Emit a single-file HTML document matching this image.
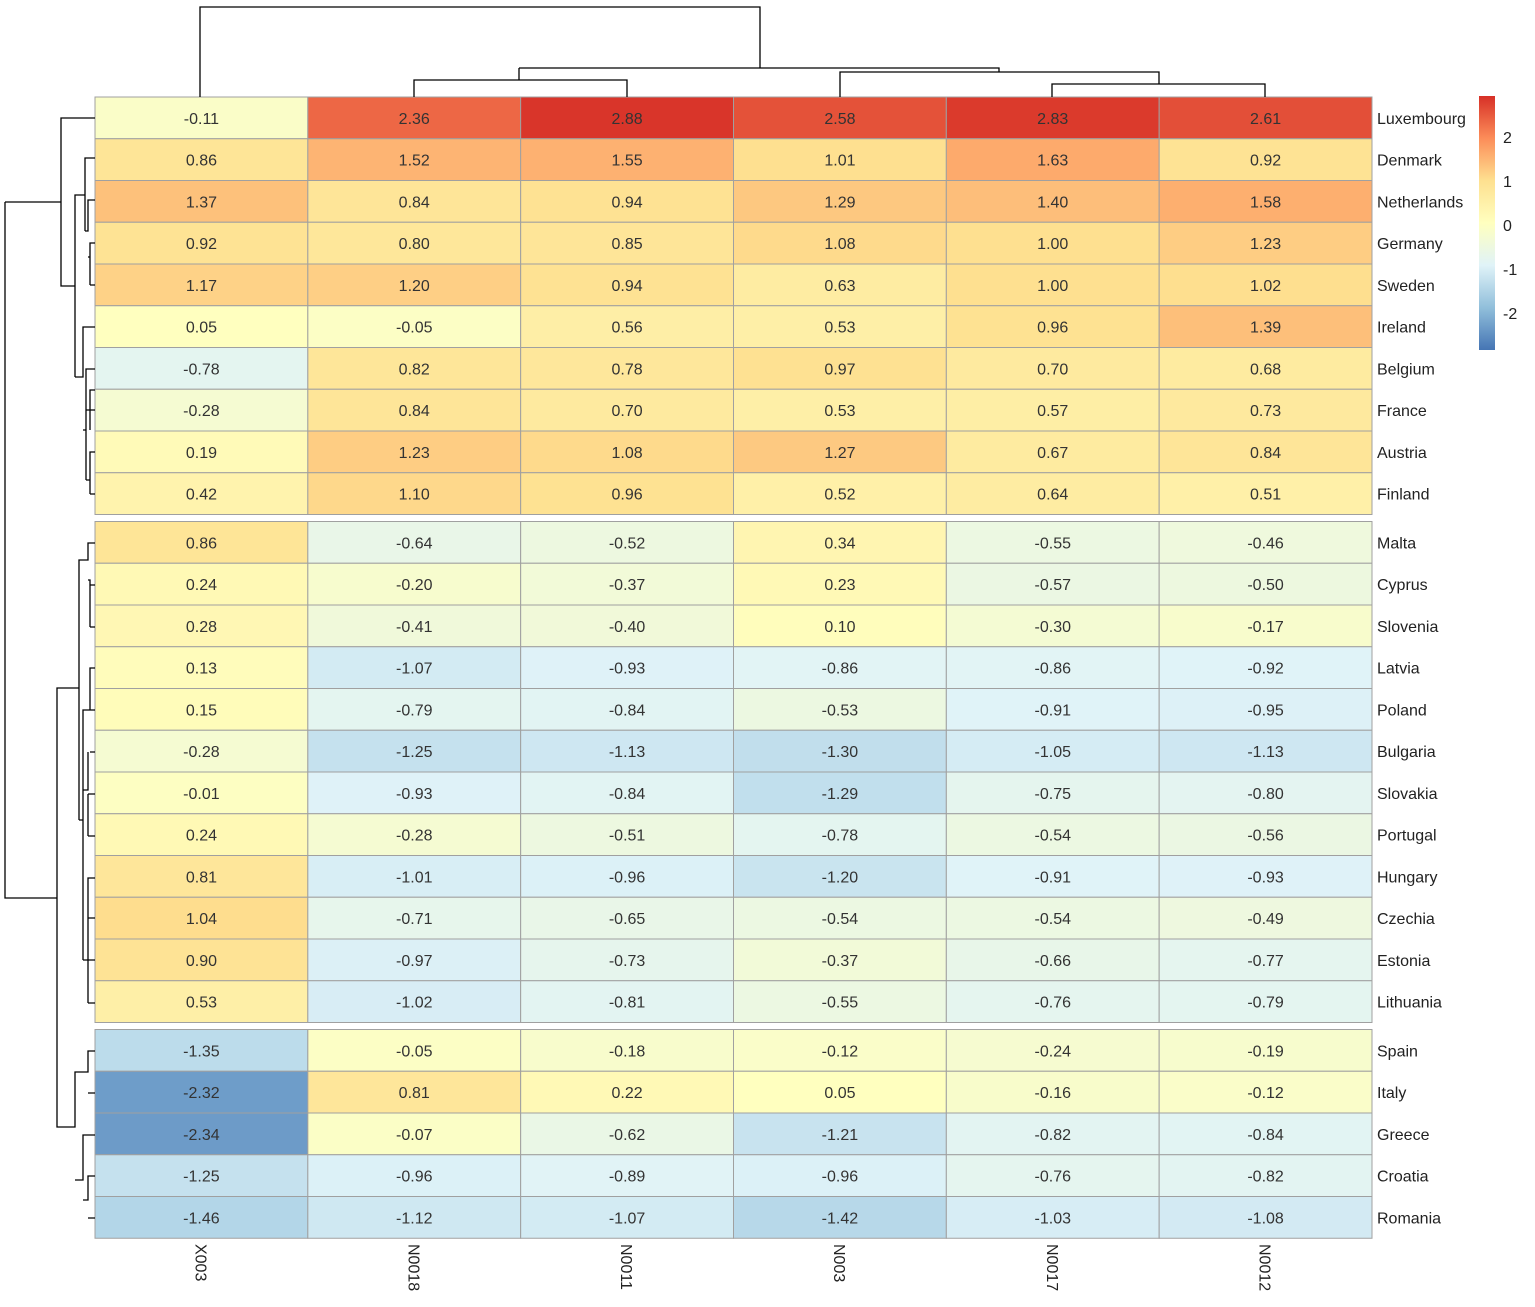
<!DOCTYPE html>
<html><head><meta charset="utf-8"><style>
html,body{margin:0;padding:0;background:#fff;}
svg{display:block;font-family:"Liberation Sans",Arial,sans-serif;}
</style></head><body>
<svg id="chart" width="1535" height="1307" viewBox="0 0 1535 1307">
<defs><linearGradient id="lg" x1="0" y1="1" x2="0" y2="0">
<stop offset="0" stop-color="#4575B4"/><stop offset="0.1667" stop-color="#91BFDB"/><stop offset="0.3333" stop-color="#E0F3F8"/><stop offset="0.5" stop-color="#FFFFBF"/><stop offset="0.6667" stop-color="#FEE090"/><stop offset="0.8333" stop-color="#FC8D59"/><stop offset="1" stop-color="#D73027"/></linearGradient></defs>
<g id="cells"></g>
<g id="rowlabels"></g>
<g id="collabels"></g>
<g fill="none" stroke="#000" stroke-width="1.3">
<path d="M200,97V7H760V68M519,68H999V72M519,68V80M414,97V80H627V97M840,97V72H1159V84M1052,97V84H1265V97"/>
</g>
<g fill="none" stroke="#000" stroke-width="1.3">
<path d="M95,118H61V286H75V195H85V158H95M85,231V195M75,377V286M85,231H88V200H95M88,257H90V243H95M90,285V257M95,285H90M75,377H83V327H95M83,430H86V369H95M86,480V430M86,369V369M86,410H90V390H95M90,410V430M95,410H90M86,480H90V452H95M90,494H95M90,452V494"/>
<path d="M5,202H61M5,202V898H57V688H79V560H88V543H95M88,580H90V585H95M90,627H95M90,585V627M79,688V820M79,820H83V710H90V668H95M90,710H95M90,752H95M83,790H88V752M88,836H95M88,794H95M88,836V794M83,790V960M83,960H88V878H95M88,918H95M88,960H95M88,1003H95M88,1003V878M57,898V1127H75V1072H88V1051H95M88,1093H95M75,1180H83V1135H95M83,1200H88V1176H95M88,1218H95"/>
</g>
<g>
<rect x="1479" y="96" width="16" height="254" fill="url(#lg)"/>
<g id="legticks" font-size="16" fill="#222"></g>
</g>
</svg>
<script>
const rows=["Luxembourg","Denmark","Netherlands","Germany","Sweden","Ireland","Belgium","France","Austria","Finland","Malta","Cyprus","Slovenia","Latvia","Poland","Bulgaria","Slovakia","Portugal","Hungary","Czechia","Estonia","Lithuania","Spain","Italy","Greece","Croatia","Romania"];
const cols=["X003","N0018","N0011","N003","N0017","N0012"];
const values=[
[-0.11,2.36,2.88,2.58,2.83,2.61],
[0.86,1.52,1.55,1.01,1.63,0.92],
[1.37,0.84,0.94,1.29,1.40,1.58],
[0.92,0.80,0.85,1.08,1.00,1.23],
[1.17,1.20,0.94,0.63,1.00,1.02],
[0.05,-0.05,0.56,0.53,0.96,1.39],
[-0.78,0.82,0.78,0.97,0.70,0.68],
[-0.28,0.84,0.70,0.53,0.57,0.73],
[0.19,1.23,1.08,1.27,0.67,0.84],
[0.42,1.10,0.96,0.52,0.64,0.51],
[0.86,-0.64,-0.52,0.34,-0.55,-0.46],
[0.24,-0.20,-0.37,0.23,-0.57,-0.50],
[0.28,-0.41,-0.40,0.10,-0.30,-0.17],
[0.13,-1.07,-0.93,-0.86,-0.86,-0.92],
[0.15,-0.79,-0.84,-0.53,-0.91,-0.95],
[-0.28,-1.25,-1.13,-1.30,-1.05,-1.13],
[-0.01,-0.93,-0.84,-1.29,-0.75,-0.80],
[0.24,-0.28,-0.51,-0.78,-0.54,-0.56],
[0.81,-1.01,-0.96,-1.20,-0.91,-0.93],
[1.04,-0.71,-0.65,-0.54,-0.54,-0.49],
[0.90,-0.97,-0.73,-0.37,-0.66,-0.77],
[0.53,-1.02,-0.81,-0.55,-0.76,-0.79],
[-1.35,-0.05,-0.18,-0.12,-0.24,-0.19],
[-2.32,0.81,0.22,0.05,-0.16,-0.12],
[-2.34,-0.07,-0.62,-1.21,-0.82,-0.84],
[-1.25,-0.96,-0.89,-0.96,-0.76,-0.82],
[-1.46,-1.12,-1.07,-1.42,-1.03,-1.08]];
const legendTicks=[2,1,0,-1,-2];
const scaleRange=[-2.84,2.93];
const rowBlocks=[10,12,5];

const NS="http://www.w3.org/2000/svg";
const X0=95,CW=(1372-95)/6,RH=41.75,GAP=7,Y0=97;
const pal=["#4575B4","#91BFDB","#E0F3F8","#FFFFBF","#FEE090","#FC8D59","#D73027"].map(h=>[1,3,5].map(i=>parseInt(h.substr(i,2),16)));
const vmin=scaleRange[0],vmax=scaleRange[1];
function color(v){let t=Math.max(0,Math.min(6,(v-vmin)/(vmax-vmin)*6));let i=Math.min(5,Math.floor(t));let f=t-i;const a=pal[i],b=pal[i+1];return "rgb("+a.map((c,k)=>Math.round(c+(b[k]-c)*f)).join(",")+")";}
function xOf(j){return X0+j*CW;}
function yOf(i){let g=0,acc=0;for(let b=0;b<rowBlocks.length;b++){acc+=rowBlocks[b];if(i>=acc)g++;}return Y0+i*RH+g*GAP;}
function el(tag,attrs,parent){const e=document.createElementNS(NS,tag);for(const k in attrs)e.setAttribute(k,attrs[k]);parent.appendChild(e);return e;}
const cells=document.getElementById("cells"),rl=document.getElementById("rowlabels"),cl=document.getElementById("collabels");
values.forEach((r,i)=>{r.forEach((v,j)=>{
 const rc=el("rect",{x:xOf(j),y:yOf(i),width:CW,height:RH,fill:color(v),stroke:"#a0a0a0","stroke-width":1},cells);
 
 
 const t=el("text",{x:xOf(j)+CW/2,y:yOf(i)+RH/2+6,"text-anchor":"middle","font-size":16,fill:"#333"},cells);
 t.textContent=v.toFixed(2);
 
 
});
 const lb=el("text",{x:1377,y:yOf(i)+RH/2+6,"font-size":16,fill:"#222"},rl);
 lb.textContent=rows[i];
 
 
});
cols.forEach((c,j)=>{
 const cx=xOf(j)+CW/2-6;
 const t=el("text",{x:cx,y:1244,"font-size":16,fill:"#222",transform:"rotate(90 "+cx+" 1244)"},cl);
 t.textContent=c;
 
 
});
const lt=document.getElementById("legticks");
legendTicks.forEach(v=>{
 const y=225-v*44;
 const t=el("text",{x:1503,y:y+6},lt);
 t.textContent=v;
 
 
});
</script>
</body></html>
